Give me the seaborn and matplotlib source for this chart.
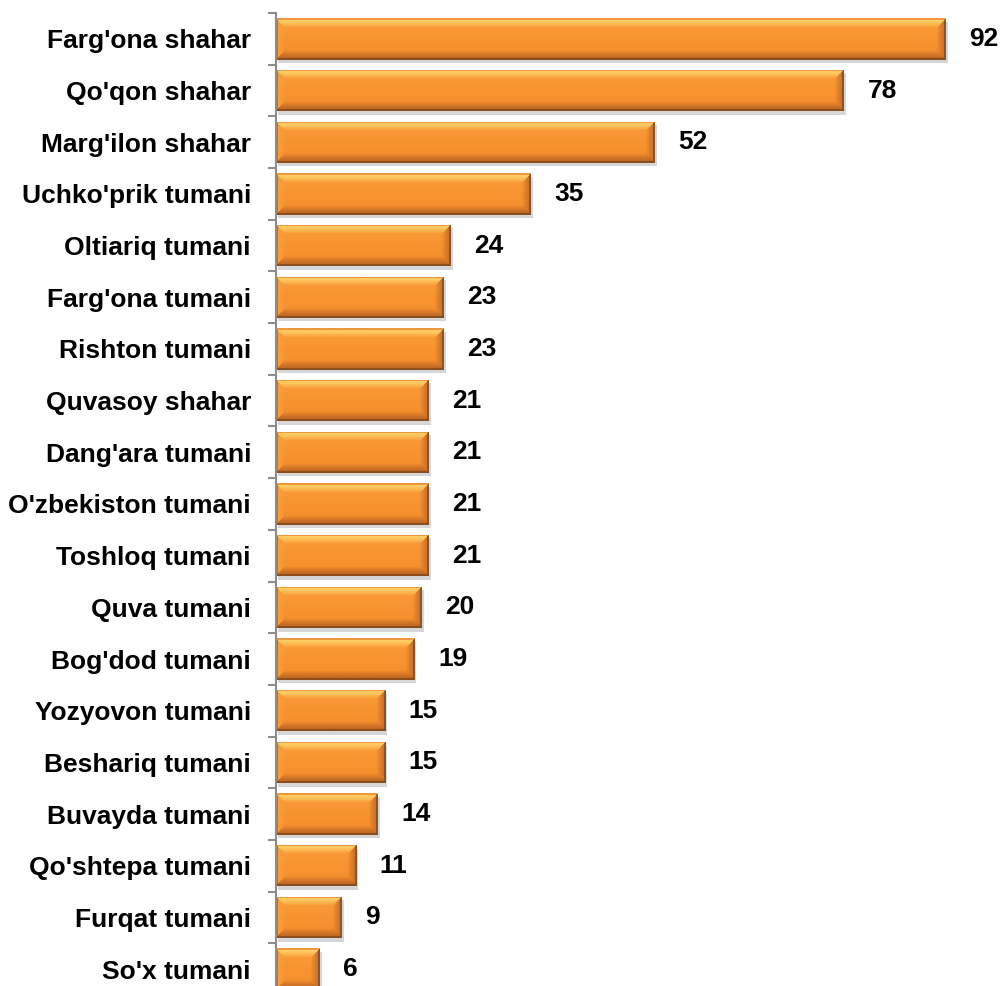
import numpy as np
import matplotlib
matplotlib.use("Agg")
import matplotlib.pyplot as plt
import matplotlib.patheffects as pe
import seaborn as sns

# ---------------------------------
# Data
# ---------------------------------

regions = [
    "Farg'ona shahar", "Qo'qon shahar", "Marg'ilon shahar", "Uchko'prik tumani",
    "Oltiariq tumani", "Farg'ona tumani", "Rishton tumani", "Quvasoy shahar",
    "Dang'ara tumani", "O'zbekiston tumani", "Toshloq tumani", "Quva tumani",
    "Bog'dod tumani", "Yozyovon tumani", "Beshariq tumani", "Buvayda tumani",
    "Qo'shtepa tumani", "Furqat tumani", "So'x tumani",
]

counts = [92, 78, 52, 35, 24, 23, 23, 21, 21, 21, 21, 20, 19, 15, 15, 14, 11, 9, 6]

# ---------------------------------
# Style
# ---------------------------------

BAR_COLOR = "#F7922E"
AXIS_GRAY = "#8C8C8C"

sns.set_style("white")
plt.rcParams["font.family"] = ["Liberation Sans", "DejaVu Sans"]


def bevel_image(w, h, b=9):
    # orange face with a bevel: light top, dark bottom and right end
    yy, xx = np.mgrid[0:h, 0:w]
    t = yy / max(h - 1, 1)
    light = np.array([250, 156, 56]) / 255
    dark = np.array([244, 140, 42]) / 255
    img = light[None, None, :] * (1 - t[..., None]) + dark[None, None, :] * t[..., None]

    dist = np.stack([yy, h - 1 - yy, xx, w - 1 - xx])
    side = dist.argmin(axis=0)
    dmin = dist.min(axis=0)

    bevel_cols = np.array([
        [255, 216, 112],
        [186, 100, 36],
        [247, 160, 66],
        [204, 110, 36],
    ]) / 255
    inner = dmin < b
    frac = (dmin / b)[..., None] ** 1.3
    edge_col = bevel_cols[side]
    img = np.where(inner[..., None], edge_col * (1 - frac) + img * frac, img)

    outline_cols = np.array([
        [240, 150, 60],
        [140, 78, 28],
        [200, 110, 40],
        [150, 82, 28],
    ]) / 255
    outline = dmin < 1.2
    img[outline] = outline_cols[side][outline]
    return img


# ---------------------------------
# Plot
# ---------------------------------

fig = plt.figure(figsize=(10, 9.86), dpi=100)
ax = fig.add_axes([0.276, -0.00913, 0.728, 0.99595])

sns.barplot(
    x=counts,
    y=regions,
    orient="h",
    color=BAR_COLOR,
    width=0.8,
    saturation=1,
    ax=ax
)

ax.set_xlim(0, 100)
ax.set_ylim(len(regions) - 0.5, -0.5)

# bevel images clipped to each bar, plus soft shadow
for patch in ax.patches:
    patch.set_edgecolor("none")
    patch.set_zorder(2)
    patch.set_path_effects([
        pe.SimplePatchShadow(offset=(1.5, -2.5), shadow_rgbFace="0.6", alpha=0.4),
        pe.Normal()
    ])
    x0, y0 = patch.get_x(), patch.get_y()
    w, h = patch.get_width(), patch.get_height()
    p0 = ax.transData.transform((x0, y0))
    p1 = ax.transData.transform((x0 + w, y0 + h))
    w_px = max(int(round(abs(p1[0] - p0[0]))), 2)
    h_px = max(int(round(abs(p1[1] - p0[1]))), 2)
    im = ax.imshow(
        bevel_image(w_px, h_px),
        extent=[x0, x0 + w, y0 + h, y0],
        aspect="auto",
        interpolation="bilinear",
        zorder=2.5
    )
    im.set_clip_path(patch)

ax.set_xlim(0, 100)
ax.set_ylim(len(regions) - 0.5, -0.5)

ax.bar_label(
    ax.containers[0],
    labels=[str(v) for v in counts],
    padding=17,
    fontsize=19,
    fontweight="bold",
    color="black"
)

# axes styling
for side in ["top", "right", "bottom"]:
    ax.spines[side].set_visible(False)
ax.spines["left"].set_color(AXIS_GRAY)
ax.spines["left"].set_linewidth(1.5)
ax.spines["left"].set_zorder(3)

ax.set_xticks([])
ax.set_xlabel("")
ax.set_ylabel("")

ax.set_yticks(np.arange(len(regions) + 1) - 0.5, minor=True)
ax.tick_params(axis="y", which="both", left=True)
ax.tick_params(axis="y", which="major", length=0, pad=18,
               labelsize=19, labelcolor="black")
ax.tick_params(axis="y", which="minor", length=6, width=1.5,
               color=AXIS_GRAY, direction="out")
for lbl in ax.get_yticklabels():
    lbl.set_fontweight("bold")

fig.savefig("out.png", dpi=100)
